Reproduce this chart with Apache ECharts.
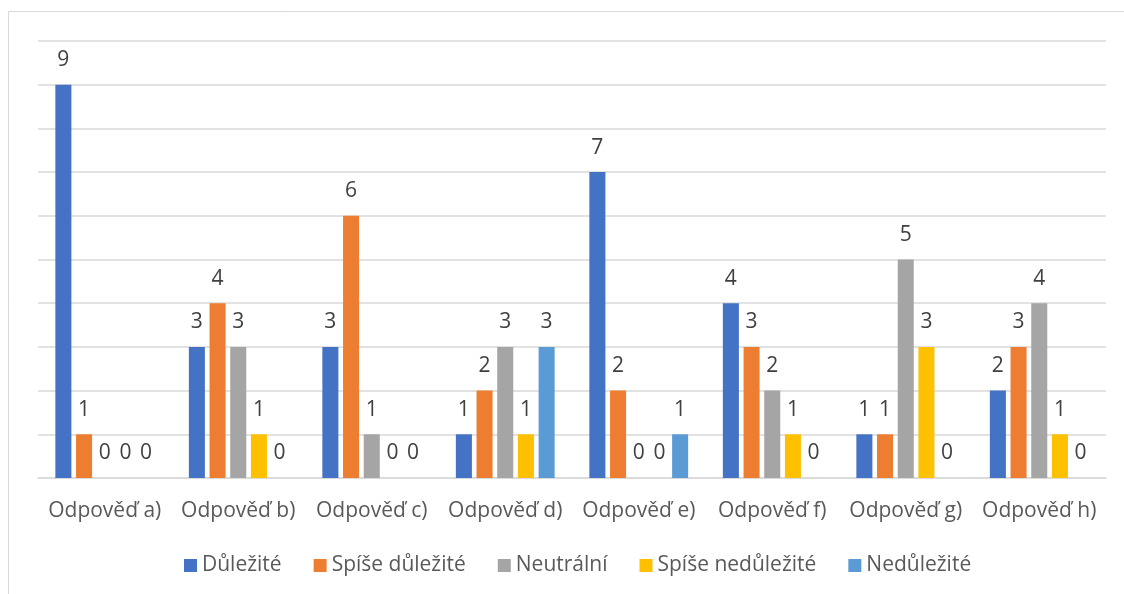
<!DOCTYPE html>
<html>
<head>
<meta charset="utf-8">
<script src="https://cdn.jsdelivr.net/npm/echarts@6/dist/echarts.min.js"></script>
<style>
  html, body { margin: 0; padding: 0; background: #fff; }
  #chart { width: 1124px; height: 594px; }
</style>
</head>
<body>
<div id="chart"></div>
<script>
  // categories and series values
  var categories = ['Odpověď a)', 'Odpověď b)', 'Odpověď c)', 'Odpověď d)', 'Odpověď e)', 'Odpověď f)', 'Odpověď g)', 'Odpověď h)'];
  var seriesNames = ['Důležité', 'Spíše důležité', 'Neutrální', 'Spíše nedůležité', 'Nedůležité'];
  var dulezite = [9, 3, 3, 1, 7, 4, 1, 2];
  var spiseDulezite = [1, 4, 6, 2, 2, 3, 1, 3];
  var neutralni = [0, 3, 1, 3, 0, 2, 5, 4];
  var spiseNedulezite = [0, 1, 0, 1, 0, 1, 3, 1];
  var nedulezite = [0, 0, 0, 3, 1, 0, 0, 0];
  var colors = ['#4472C4', '#ED7D31', '#A5A5A5', '#FFC000', '#5B9BD5'];

  var chart = echarts.init(document.getElementById('chart'));
  var font = '"Open Sans", sans-serif';

  function bar(name, data) {
    return {
      name: name,
      type: 'bar',
      data: data,
      barGap: '29%',
      barCategoryGap: '26%',
      label: {
        show: true,
        position: 'top',
        distance: 14,
        color: '#404040',
        fontSize: 21,
        fontFamily: font
      }
    };
  }

  var option = {
    animation: false,
    color: colors,
    textStyle: { fontFamily: font },
    graphic: [{
      type: 'rect',
      shape: { x: 8.5, y: 11.5, width: 1300, height: 1000 },
      style: { fill: 'none', stroke: '#d9d9d9', lineWidth: 1 },
      silent: true
    }],
    grid: { left: 38, right: 18, top: 41, bottom: 116 },
    legend: {
      top: 550,
      left: 179,
      itemWidth: 13,
      itemHeight: 13,
      itemGap: 32,
      icon: 'rect',
      textStyle: { color: '#595959', fontSize: 21, fontFamily: font },
      data: seriesNames
    },
    xAxis: {
      type: 'category',
      data: categories,
      axisLine: { lineStyle: { color: '#d9d9d9', width: 1.5 } },
      axisTick: { show: false },
      axisLabel: { color: '#595959', fontSize: 21, margin: 23, interval: 0, fontFamily: font }
    },
    yAxis: {
      type: 'value',
      min: 0,
      max: 10,
      interval: 1,
      axisLabel: { show: false },
      axisLine: { show: false },
      axisTick: { show: false },
      splitLine: { lineStyle: { color: '#d9d9d9', width: 1.5 } }
    },
    series: [
      bar(seriesNames[0], dulezite),
      bar(seriesNames[1], spiseDulezite),
      bar(seriesNames[2], neutralni),
      bar(seriesNames[3], spiseNedulezite),
      bar(seriesNames[4], nedulezite)
    ]
  };
  chart.setOption(option);
</script>
</body>
</html>
